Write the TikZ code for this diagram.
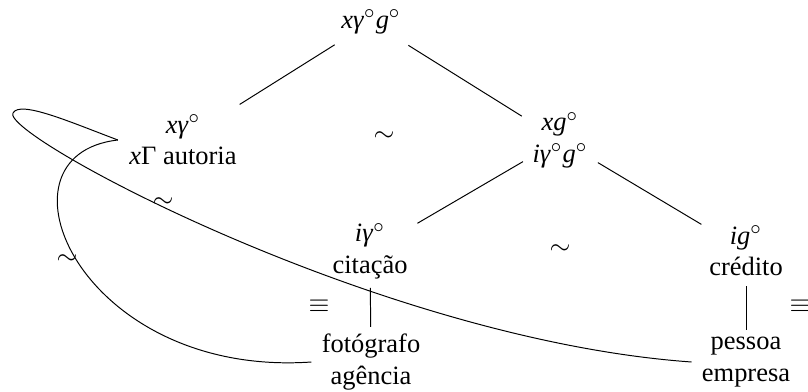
\documentclass[tikz,border=0pt]{standalone}
\usepackage{fontspec}
\setmainfont{Liberation Serif}
\newcommand{\mycirc}{$^\circ$}
\begin{document}
\begin{tikzpicture}[x=0.408pt,y=-0.408pt,
  every node/.style={font=\fontsize{10.8}{12.8}\selectfont},
  lbl/.style={align=center, inner xsep=4pt, inner ysep=0pt},
  rel/.style={inner sep=0pt},
  edge/.style={line width=0.4pt},
  curve/.style={line width=0.4pt}]
\useasboundingbox (0,0) rectangle (808,392);
% nodes
\node[lbl] (T) at (371,22) {\textit{xγ}\mycirc\textit{g}\mycirc};
\node[lbl, inner xsep=4.5pt] (L) at (183,140) {\textit{xγ}\mycirc\\\textit{x}Γ autoria};
\node[lbl] (R) at (560,140) {\textit{xg}\mycirc\\\textit{iγ}\mycirc\textit{g}\mycirc};
\node[lbl] (C) at (370,251) {\textit{iγ}\mycirc\\citação};
\node[lbl] (D) at (746,251) {\textit{ig}\mycirc\\crédito};
\node[lbl] (F) at (371,362) {fotógrafo\\agência};
\node[lbl] (P) at (746,362) {pessoa\\empresa};
% tree edges
\draw[edge, shorten <=17.5pt, shorten >=27.3pt] (T.center) -- (L.center);
\draw[edge, shorten <=18pt, shorten >=18.4pt] (T.center) -- (R.center);
\draw[edge, shorten <=17.5pt, shorten >=22.4pt] (R.center) -- (C.center);
\draw[edge, shorten <=18pt, shorten >=21.2pt] (R.center) -- (D.center);
\draw[edge, shorten <=15pt, shorten >=14.3pt] (C.center) -- (F.center);
\draw[edge, shorten <=14.3pt, shorten >=13pt] (D.center) -- (P.center);
% long curves
\draw[curve] (L.west) .. controls (70,122) and (20,100) .. (13,113)
  .. controls (0,135) and (380,340) .. (P.west);
\draw[curve] (L.west) .. controls (-15,155) and (80,378) .. (F.west);
% relation symbols
\node[rel] (s1) at (384,137) {$\sim$};
\node[rel] (s2) at (560,250) {$\sim$};
\node[rel] (s3) at (163,203) {$\sim$};
\node[rel] (s4) at (67,260) {$\sim$};
\node[rel] (e1) at (319,306) {$\equiv$};
\node[rel] (e2) at (800,306) {$\equiv$};
\end{tikzpicture}
\end{document}
